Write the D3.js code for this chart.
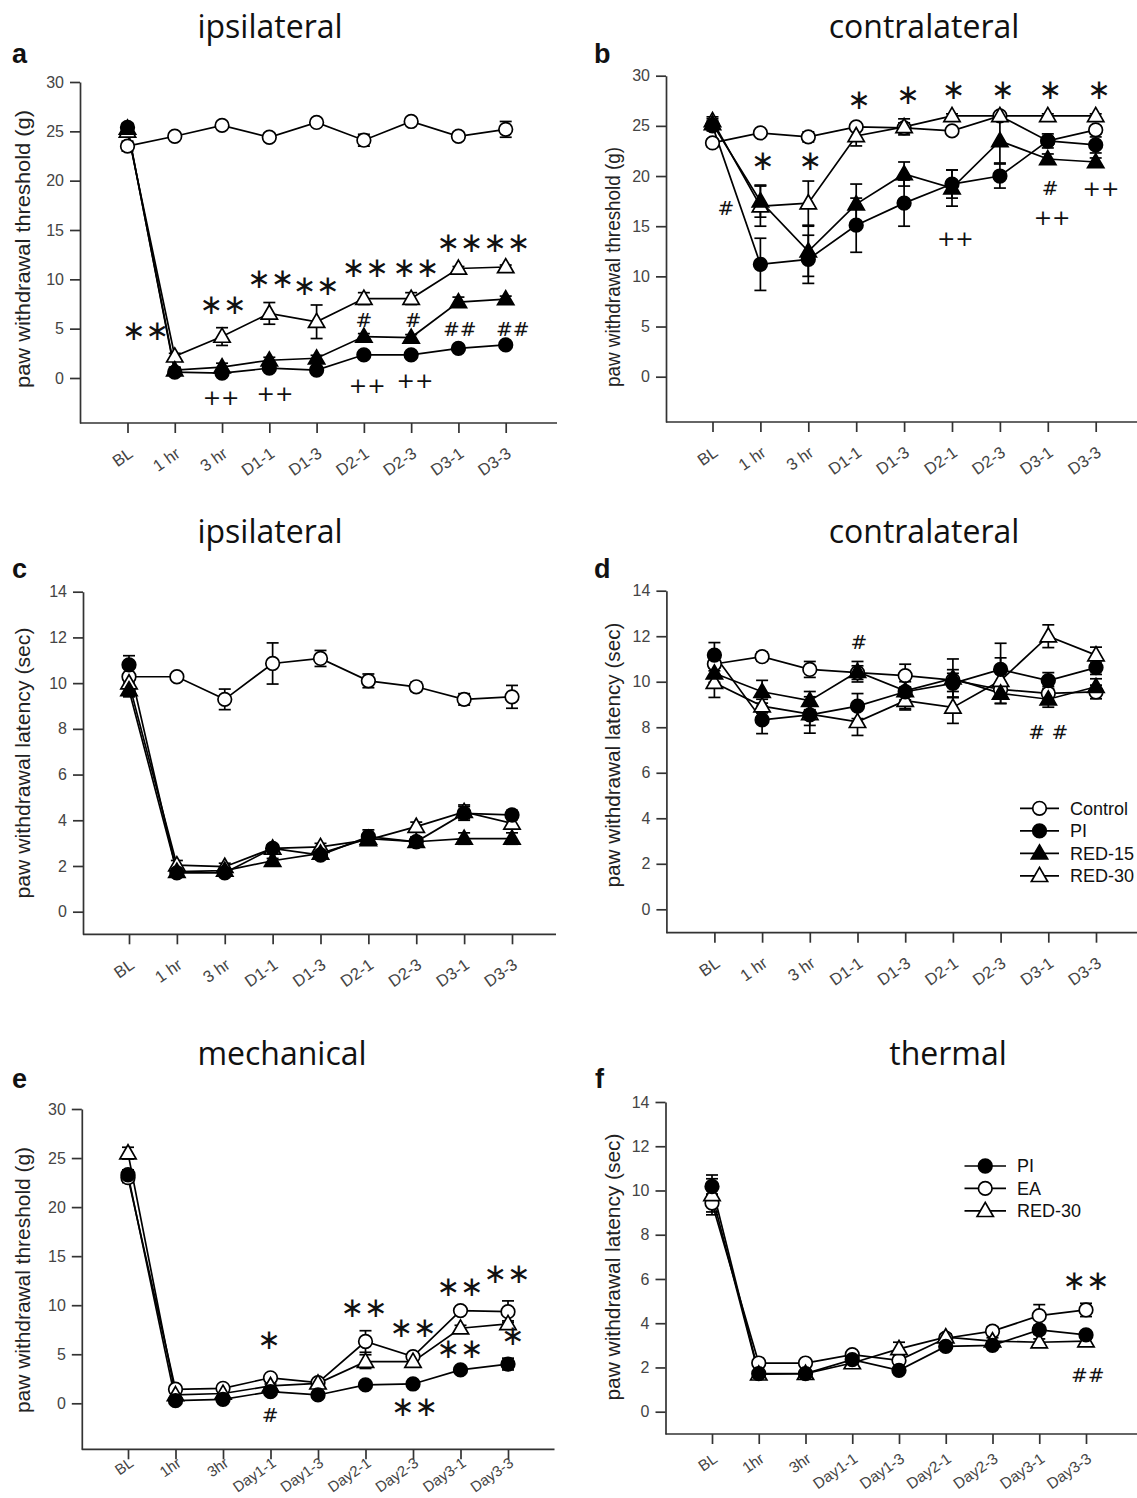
<!DOCTYPE html>
<html>
<head>
<meta charset="utf-8">
<script src="https://cdn.jsdelivr.net/npm/d3@7"></script>
<style>
  body { margin: 0; background: #fff; }
  svg text { font-family: Arial, "Liberation Sans", sans-serif; }
</style>
</head>
<body>
<svg id="fig" width="1137" height="1498"></svg>
<script>
// x categories and y ticks
const hrCats = ["BL", "1 hr", "3 hr", "D1-1", "D1-3", "D2-1", "D2-3", "D3-1", "D3-3"];
const dayCats = ["BL", "1hr", "3hr", "Day1-1", "Day1-3", "Day2-1", "Day2-3", "Day3-1", "Day3-3"];
const thresholdTicks = [0, 5, 10, 15, 20, 25, 30];
const latencyTicks = [0, 2, 4, 6, 8, 10, 12, 14];

// a - ipsilateral threshold (g)
const aControl = [23.5, 24.5, 25.6, 24.4, 25.9, 24.1, 26.0, 24.5, 25.2];
const aControlErr = [0.5, 0.3, 0.3, 0.4, 0.2, 0.6, 0.2, 0.4, 0.8];
const aPI = [25.4, 0.6, 0.5, 1.0, 0.8, 2.35, 2.35, 3.0, 3.35];
const aPIErr = [0.4, 0.2, 0.2, 0.3, 0.2, 0.2, 0.2, 0.2, 0.2];
const aRED15 = [25.3, 0.8, 1.1, 1.8, 2.0, 4.2, 4.1, 7.7, 8.0];
const aRED15Err = [0.4, 0.3, 0.4, 0.3, 0.3, 0.3, 0.3, 0.5, 0.3];
const aRED30 = [25.0, 2.2, 4.2, 6.55, 5.7, 8.05, 8.05, 11.1, 11.25];
const aRED30Err = [0.5, 0.3, 0.9, 1.1, 1.7, 0.6, 0.6, 0.2, 0.2];
// [position in category steps, value, mark]
const aNotes = [[0.38, 4.6, "∗∗"], [2.02, 7.2, "∗∗"], [3.03, 9.9, "∗∗"], [3.99, 9.2, "∗∗"],
  [5.03, 11.0, "∗∗"], [6.1, 11.0, "∗∗"], [7.03, 13.5, "∗∗"], [8.02, 13.5, "∗∗"],
  [5.0, 5.9, "#"], [6.04, 5.9, "#"], [7.03, 5.0, "##"], [8.15, 5.0, "##"],
  [1.98, -1.9, "++"], [3.12, -1.5, "++"], [5.07, -0.7, "++"], [6.08, -0.2, "++"]];

// b - contralateral threshold (g)
const bControl = [23.3, 24.3, 23.9, 24.9, 24.8, 24.5, 26.0, 23.5, 24.6];
const bControlErr = [0.4, 0.3, 0.5, 0.3, 0.5, 0.3, 0.2, 0.4, 0.4];
const bPI = [25.0, 11.2, 11.7, 15.1, 17.3, 19.2, 20.0, 23.5, 23.1];
const bPIErr = [0.5, 2.6, 2.4, 2.7, 2.3, 1.4, 1.2, 0.7, 0.8];
const bRED15 = [25.2, 17.5, 12.5, 17.2, 20.2, 18.8, 23.5, 21.7, 21.4];
const bRED15Err = [0.5, 1.6, 2.5, 2.0, 1.2, 1.8, 2.2, 0.5, 0.4];
const bRED30 = [25.5, 17.0, 17.3, 24.0, 24.9, 26.0, 26.0, 26.0, 26.0];
const bRED30Err = [0.4, 2.0, 2.2, 1.0, 0.8, 0.2, 0.2, 0.2, 0.2];
const bNotes = [[1.05, 21.3, "∗"], [2.04, 21.3, "∗"], [3.06, 27.4, "∗"], [4.08, 27.9, "∗"],
  [5.03, 28.4, "∗"], [6.06, 28.4, "∗"], [7.05, 28.4, "∗"], [8.07, 28.4, "∗"],
  [0.28, 16.8, "#"], [5.07, 13.8, "++"], [7.05, 18.8, "#"], [7.09, 15.9, "++"], [8.11, 18.8, "++"]];

// c - ipsilateral latency (sec)
const cControl = [10.28, 10.28, 9.29, 10.86, 11.08, 10.1, 9.84, 9.29, 9.4];
const cControlErr = [0.4, 0.1, 0.45, 0.9, 0.35, 0.3, 0.2, 0.25, 0.5];
const cPI = [10.8, 1.7, 1.7, 2.77, 2.48, 3.28, 3.06, 4.3, 4.23];
const cPIErr = [0.4, 0.15, 0.15, 0.15, 0.15, 0.3, 0.2, 0.3, 0.2];
const cRED15 = [9.7, 1.75, 1.8, 2.23, 2.55, 3.2, 3.06, 3.2, 3.2];
const cRED15Err = [0.3, 0.1, 0.1, 0.1, 0.1, 0.2, 0.2, 0.25, 0.25];
const cRED30 = [10.0, 2.04, 1.97, 2.77, 2.84, 3.14, 3.72, 4.37, 3.86];
const cRED30Err = [0.4, 0.2, 0.15, 0.15, 0.15, 0.2, 0.2, 0.3, 0.2];

// d - contralateral latency (sec)
const dControl = [10.78, 11.1, 10.54, 10.4, 10.27, 10.07, 9.66, 9.49, 9.55];
const dControlErr = [0.3, 0.2, 0.35, 0.3, 0.5, 0.3, 0.3, 0.3, 0.3];
const dPI = [11.17, 8.32, 8.54, 8.93, 9.56, 9.93, 10.54, 10.05, 10.62];
const dPIErr = [0.55, 0.6, 0.8, 0.55, 0.8, 0.6, 1.15, 0.35, 0.3];
const dRED15 = [10.37, 9.56, 9.17, 10.44, 9.6, 10.15, 9.49, 9.23, 9.78];
const dRED15Err = [0.4, 0.5, 0.4, 0.45, 0.4, 0.85, 0.45, 0.35, 0.35];
const dRED30 = [9.96, 8.93, 8.58, 8.24, 9.17, 8.87, 10.05, 12.0, 11.17];
const dRED30Err = [0.65, 0.3, 0.5, 0.6, 0.35, 0.7, 1.0, 0.5, 0.35];
const dNotes = [[3.03, 11.76, "#"], [7.0, 7.8, "# #"]];

// e - mechanical threshold (g)
const ePI = [23.3, 0.27, 0.4, 1.19, 0.85, 1.87, 1.97, 3.4, 4.0];
const ePIErr = [0.5, 0.2, 0.2, 0.3, 0.2, 0.2, 0.2, 0.3, 0.6];
const eEA = [23.0, 1.43, 1.53, 2.6, 2.1, 6.3, 4.76, 9.45, 9.34];
const eEAErr = [0.5, 0.2, 0.2, 0.3, 0.2, 1.1, 0.3, 0.3, 1.1];
const eRED30 = [25.5, 0.85, 1.0, 1.77, 2.04, 4.25, 4.25, 7.65, 8.1];
const eRED30Err = [0.6, 0.2, 0.2, 0.2, 0.2, 0.7, 0.3, 0.3, 0.3];
const eNotes = [[2.97, 6.3, "∗"], [2.99, -1.2, "#"], [4.97, 9.5, "∗∗"], [6.0, 7.5, "∗∗"],
  [6.03, -0.6, "∗∗"], [6.99, 11.7, "∗∗"], [6.99, 5.4, "∗∗"], [7.98, 13.0, "∗∗"], [8.1, 6.7, "∗"]];

// f - thermal latency (sec)
const fPI = [10.18, 1.72, 1.72, 2.35, 1.87, 2.95, 3.0, 3.7, 3.47];
const fPIErr = [0.35, 0.1, 0.1, 0.1, 0.1, 0.1, 0.1, 0.2, 0.1];
const fEA = [9.43, 2.2, 2.2, 2.58, 2.32, 3.32, 3.64, 4.34, 4.6];
const fEAErr = [0.4, 0.1, 0.1, 0.1, 0.1, 0.15, 0.2, 0.5, 0.3];
const fRED30 = [9.8, 1.69, 1.72, 2.2, 2.84, 3.37, 3.19, 3.14, 3.19];
const fRED30Err = [0.9, 0.1, 0.1, 0.1, 0.3, 0.15, 0.15, 0.15, 0.1];
const fNotes = [[8.0, 5.84, "∗∗"], [8.04, 1.67, "##"]];

const legendD = ["Control", "PI", "RED-15", "RED-30"];
const legendF = ["PI", "EA", "RED-30"];

// marker styles
const style = {
  Control: {shape: "circle", fill: "#fff"},
  EA: {shape: "circle", fill: "#fff"},
  PI: {shape: "circle", fill: "#000"},
  "RED-15": {shape: "triangle", fill: "#000"},
  "RED-30": {shape: "triangle", fill: "#fff"}
};

const thrLabel = "paw withdrawal threshold (g)";
const latLabel = "paw withdrawal latency (sec)";

const panels = [
  {id: "a", title: "ipsilateral", cats: hrCats, ticks: thresholdTicks, yLabel: thrLabel, notes: aNotes,
   series: [["Control", aControl, aControlErr], ["RED-30", aRED30, aRED30Err], ["RED-15", aRED15, aRED15Err], ["PI", aPI, aPIErr]],
   left: 80, right: 557, top: 82, zeroY: 378, bottomY: 423, first: 127.5, last: 505.7, labDx: 6, labDy: 33, labSize: 16.5,
   titleX: 270, titleY: 38, letterX: 12, letterY: 63, labelX: 23, labelY: 249, labelLen: 278},
  {id: "b", title: "contralateral", cats: hrCats, ticks: thresholdTicks, yLabel: thrLabel, notes: bNotes,
   series: [["Control", bControl, bControlErr], ["RED-30", bRED30, bRED30Err], ["RED-15", bRED15, bRED15Err], ["PI", bPI, bPIErr]],
   left: 666, right: 1137, top: 75.7, zeroY: 376.7, bottomY: 422, first: 712.5, last: 1095.7, labDx: 6, labDy: 33, labSize: 16.5,
   titleX: 924, titleY: 38, letterX: 594, letterY: 63, labelX: 613, labelY: 267, labelLen: 240},
  {id: "c", title: "ipsilateral", cats: hrCats, ticks: latencyTicks, yLabel: latLabel, notes: [],
   series: [["Control", cControl, cControlErr], ["RED-30", cRED30, cRED30Err], ["RED-15", cRED15, cRED15Err], ["PI", cPI, cPIErr]],
   left: 83, right: 556, top: 591.7, zeroY: 911.7, bottomY: 934.3, first: 129, last: 512, labDx: 6, labDy: 33, labSize: 16.5,
   titleX: 270, titleY: 543, letterX: 12, letterY: 578, labelX: 23, labelY: 763, labelLen: 271},
  {id: "d", title: "contralateral", cats: hrCats, ticks: latencyTicks, yLabel: latLabel, notes: dNotes,
   series: [["Control", dControl, dControlErr], ["RED-30", dRED30, dRED30Err], ["RED-15", dRED15, dRED15Err], ["PI", dPI, dPIErr]],
   left: 666.4, right: 1137, top: 590.7, zeroY: 909.3, bottomY: 932.7, first: 714.4, last: 1096, labDx: 6, labDy: 33, labSize: 16.5,
   titleX: 924, titleY: 543, letterX: 594, letterY: 578, labelX: 613, labelY: 755, labelLen: 265,
   legend: {names: legendD, x1: 1020, x2: 1059, tx: 1070, y0: 808.3, dy: 22.5}},
  {id: "e", title: "mechanical", cats: dayCats, ticks: thresholdTicks, yLabel: thrLabel, notes: eNotes,
   series: [["EA", eEA, eEAErr], ["RED-30", eRED30, eRED30Err], ["PI", ePI, ePIErr]],
   left: 81.8, right: 554.5, top: 1109, zeroY: 1403.3, bottomY: 1449.3, first: 128, last: 508, labDx: 6, labDy: 16, labSize: 15,
   titleX: 282, titleY: 1065, letterX: 12, letterY: 1088, labelX: 23, labelY: 1280, labelLen: 266},
  {id: "f", title: "thermal", cats: dayCats, ticks: latencyTicks, yLabel: latLabel, notes: fNotes,
   series: [["EA", fEA, fEAErr], ["RED-30", fRED30, fRED30Err], ["PI", fPI, fPIErr]],
   left: 665.5, right: 1137, top: 1102, zeroY: 1411.7, bottomY: 1434, first: 712, last: 1086, labDx: 6, labDy: 27, labSize: 15.5,
   titleX: 948, titleY: 1065, letterX: 595, letterY: 1088, labelX: 613, labelY: 1267, labelLen: 267,
   legend: {names: legendF, x1: 964.5, x2: 1006, tx: 1017, y0: 1166, dy: 22.4}}
];

const svg = d3.select("#fig");
const triangle = d3.symbol(d3.symbolTriangle, 115);

function drawMarker(g, name, cx, cy) {
  const s = style[name];
  if (s.shape === "circle") {
    g.append("circle").attr("cx", cx).attr("cy", cy).attr("r", 6.8)
      .attr("fill", s.fill).attr("stroke", "#000").attr("stroke-width", 1.7);
  } else {
    g.append("path").attr("d", triangle()).attr("transform", `translate(${cx},${cy + 1})`)
      .attr("fill", s.fill).attr("stroke", "#000").attr("stroke-width", 1.7);
  }
}

panels.forEach(p => {
  const g = svg.append("g").attr("class", "panel-" + p.id);
  const yMax = d3.max(p.ticks);
  const unit = (p.zeroY - p.top) / yMax;
  const yMin = -(p.bottomY - p.zeroY) / unit;

  const x = d3.scalePoint().domain(p.cats).range([p.first, p.last]);
  const y = d3.scaleLinear().domain([yMin, yMax]).range([p.bottomY, p.top]);

  // titles
  g.append("text").attr("x", p.titleX).attr("y", p.titleY).attr("text-anchor", "middle")
    .style("font-family", "'Open Sans', sans-serif").style("font-size", "32px").attr("fill", "#111")
    .text(p.title);
  g.append("text").attr("x", p.letterX).attr("y", p.letterY)
    .style("font-size", "27px").style("font-weight", "bold").attr("fill", "#111").text(p.id);
  g.append("text").attr("transform", `translate(${p.labelX},${p.labelY}) rotate(-90)`)
    .attr("text-anchor", "middle").attr("dy", "0.35em")
    .attr("textLength", p.labelLen).attr("lengthAdjust", "spacingAndGlyphs")
    .style("font-size", "20px").attr("fill", "#222").text(p.yLabel);

  // axes
  const yAxis = g.append("g").attr("transform", `translate(${p.left},0)`)
    .call(d3.axisLeft(y).tickValues(p.ticks).tickSize(10).tickSizeOuter(0).tickPadding(6));
  const xAxis = g.append("g").attr("transform", `translate(0,${p.bottomY})`)
    .call(d3.axisBottom(x).tickSize(10).tickSizeOuter(0));
  xAxis.select(".domain").attr("d", `M${p.left},0H${p.right}`);
  xAxis.selectAll(".tick text")
    .attr("x", 0).attr("y", 0).attr("dy", 0)
    .attr("transform", `translate(${p.labDx},${p.labDy}) rotate(-35)`)
    .style("text-anchor", "end").style("font-size", p.labSize + "px");
  [yAxis, xAxis].forEach(ax => {
    ax.select(".domain").attr("stroke", "#333").attr("stroke-width", 1.7);
    ax.selectAll(".tick line").attr("stroke", "#333").attr("stroke-width", 1.7);
    ax.selectAll(".tick text").attr("fill", "#444");
  });
  yAxis.selectAll(".tick text").style("font-size", "16px");

  // lines and error bars
  const line = d3.line().x((d, i) => x(p.cats[i])).y(d => y(d));
  p.series.forEach(([name, vals, errs]) => {
    g.append("path").attr("d", line(vals)).attr("fill", "none")
      .attr("stroke", "#000").attr("stroke-width", 1.7);
    vals.forEach((v, i) => {
      const e = errs[i];
      if (!e) return;
      const cx = x(p.cats[i]);
      const eb = g.append("g").attr("stroke", "#000").attr("stroke-width", 1.7);
      eb.append("line").attr("x1", cx).attr("x2", cx).attr("y1", y(v - e)).attr("y2", y(v + e));
      eb.append("line").attr("x1", cx - 6).attr("x2", cx + 6).attr("y1", y(v - e)).attr("y2", y(v - e));
      eb.append("line").attr("x1", cx - 6).attr("x2", cx + 6).attr("y1", y(v + e)).attr("y2", y(v + e));
    });
  });
  // markers on top
  p.series.forEach(([name, vals]) => {
    vals.forEach((v, i) => drawMarker(g, name, x(p.cats[i]), y(v)));
  });

  // significance marks
  p.notes.forEach(([pos, v, t]) => {
    const star = t.includes("∗");
    const size = star ? 28 : (t.includes("+") ? 22 : 20);
    g.append("text").attr("x", x(p.cats[0]) + pos * x.step()).attr("y", y(v))
      .attr("dy", star ? "0.26em" : "0.36em").attr("text-anchor", "middle")
      .style("font-family", "'DejaVu Sans', sans-serif")
      .style("font-size", size + "px")
      .attr("fill", "#111").text(t);
  });

  // legend
  if (p.legend) {
    const L = p.legend;
    L.names.forEach((name, i) => {
      const ly = L.y0 + i * L.dy;
      g.append("line").attr("x1", L.x1).attr("x2", L.x2).attr("y1", ly).attr("y2", ly)
        .attr("stroke", "#000").attr("stroke-width", 1.7);
      drawMarker(g, name, (L.x1 + L.x2) / 2, ly);
      g.append("text").attr("x", L.tx).attr("y", ly).attr("dy", "0.36em")
        .style("font-size", "18px").attr("fill", "#111").text(name);
    });
  }
});
</script>
</body>
</html>
